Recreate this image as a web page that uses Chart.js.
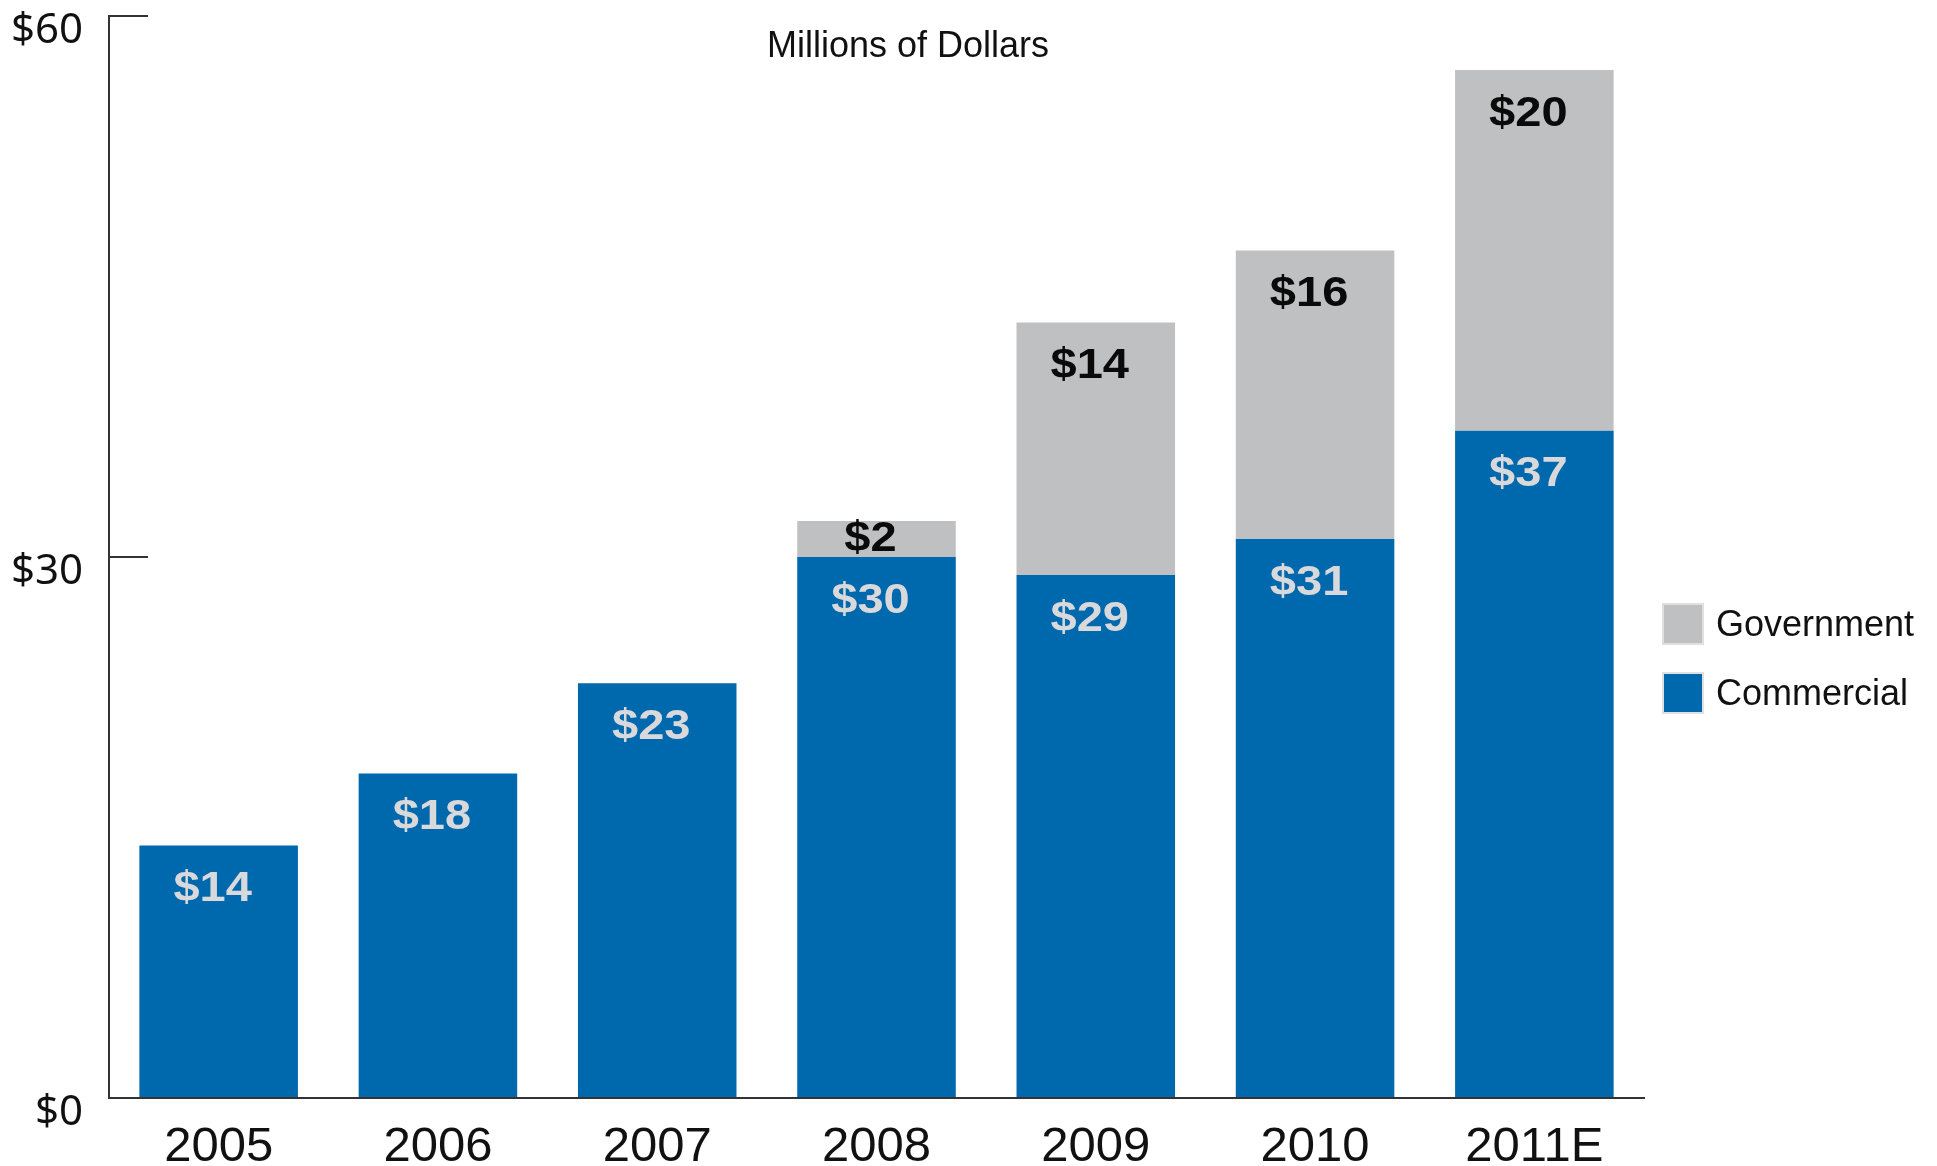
<!DOCTYPE html>
<html>
<head>
<meta charset="utf-8">
<script src="https://cdn.jsdelivr.net/npm/chart.js@4.4.1/dist/chart.umd.min.js"></script>
<style>
  html, body { margin: 0; padding: 0; background: #fff; }
  #wrap { position: relative; width: 1937px; height: 1166px; }
  #legend { position: absolute; left: 1662px; top: 589px; font-family: "Liberation Sans", Arial, sans-serif; font-size: 36px; color: #111; }
  #legend .item { display: flex; align-items: center; height: 69px; }
  #legend .box { width: 38px; height: 38px; border: 2px solid #e0e0e0; margin-right: 12px; }
</style>
</head>
<body>
<div id="wrap">
  <canvas id="chart" width="1937" height="1166"></canvas>
  <div id="legend"></div>
</div>
<script>
// 数据
const years = ['2005', '2006', '2007', '2008', '2009', '2010', '2011E'];
const commercial = [14, 18, 23, 30, 29, 31, 37];
const government = [null, null, null, 2, 14, 16, 20];
const yTicks = [0, 30, 60];

const BLUE = '#0068ad';
const GREY = '#bfc0c2';

// 柱内数值标签
const valueLabels = {
  id: 'valueLabels',
  afterDatasetsDraw(chart) {
    const ctx = chart.ctx;
    chart.data.datasets.forEach((ds, i) => {
      const meta = chart.getDatasetMeta(i);
      meta.data.forEach((bar, j) => {
        const v = ds.data[j];
        if (v == null) return;
        const p = bar.getProps(['x', 'y', 'base'], true);
        const ly = Math.min(p.y + 44, (p.y + p.base) / 2);
        ctx.save();
        ctx.translate(p.x - 6, ly);
        ctx.scale(1.12, 1);
        ctx.font = 'bold 42px "Liberation Sans", Arial, sans-serif';
        ctx.textAlign = 'center';
        ctx.textBaseline = 'middle';
        ctx.fillStyle = ds.labelColor;
        ctx.fillText('$' + v, 0, 0);
        ctx.restore();
      });
    });
  }
};

// 图表标题
const unitTitle = {
  id: 'unitTitle',
  afterDraw(chart) {
    const ctx = chart.ctx;
    ctx.save();
    ctx.font = '36px "Liberation Sans", Arial, sans-serif';
    ctx.fillStyle = '#111';
    ctx.textAlign = 'center';
    ctx.textBaseline = 'middle';
    ctx.fillText('Millions of Dollars', 908, 47);
    ctx.restore();
  }
};

const chart = new Chart(document.getElementById('chart'), {
  type: 'bar',
  data: {
    labels: years,
    datasets: [
      { label: 'Commercial', data: commercial, backgroundColor: BLUE, labelColor: '#d9d9db' },
      { label: 'Government', data: government, backgroundColor: GREY, labelColor: '#0a0a0a' }
    ]
  },
  options: {
    responsive: false,
    animation: false,
    layout: { padding: { top: 16, right: 293, left: 0, bottom: 0 } },
    datasets: { bar: { categoryPercentage: 1, barPercentage: 0.723, borderWidth: 0 } },
    scales: {
      x: {
        stacked: true,
        grid: { display: false },
        border: { display: true, color: '#333', width: 2 },
        ticks: { color: '#111', padding: 12, font: { family: '"Liberation Sans", Arial, sans-serif', size: 49 } },
        afterFit: (s) => { s.height = 68; }
      },
      y: {
        stacked: true,
        min: 0,
        max: 60,
        afterBuildTicks: (s) => { s.ticks = yTicks.map(v => ({ value: v })); },
        grid: { drawOnChartArea: false, drawTicks: true, tickLength: -39, color: '#333', lineWidth: 2 },
        border: { display: true, color: '#333', width: 2 },
        ticks: {
          color: '#111',
          padding: 65,
          labelOffset: 15,
          font: { family: '"Noto Sans", "Open Sans", sans-serif', size: 42, lineHeight: 0.7 },
          callback: (v) => '$' + v
        },
        afterFit: (s) => { s.width = 109; s.paddingTop = 0; s.paddingBottom = 0; }
      }
    },
    plugins: {
      legend: { display: false },
      tooltip: { enabled: false }
    }
  },
  plugins: [valueLabels, unitTitle]
});

// 图例（Government 在上）
const legend = document.getElementById('legend');
chart.data.datasets.slice().reverse().forEach(ds => {
  const item = document.createElement('div');
  item.className = 'item';
  item.innerHTML = '<span class="box" style="background:' + ds.backgroundColor + '"></span>' + ds.label;
  legend.appendChild(item);
});
</script>
</body>
</html>
